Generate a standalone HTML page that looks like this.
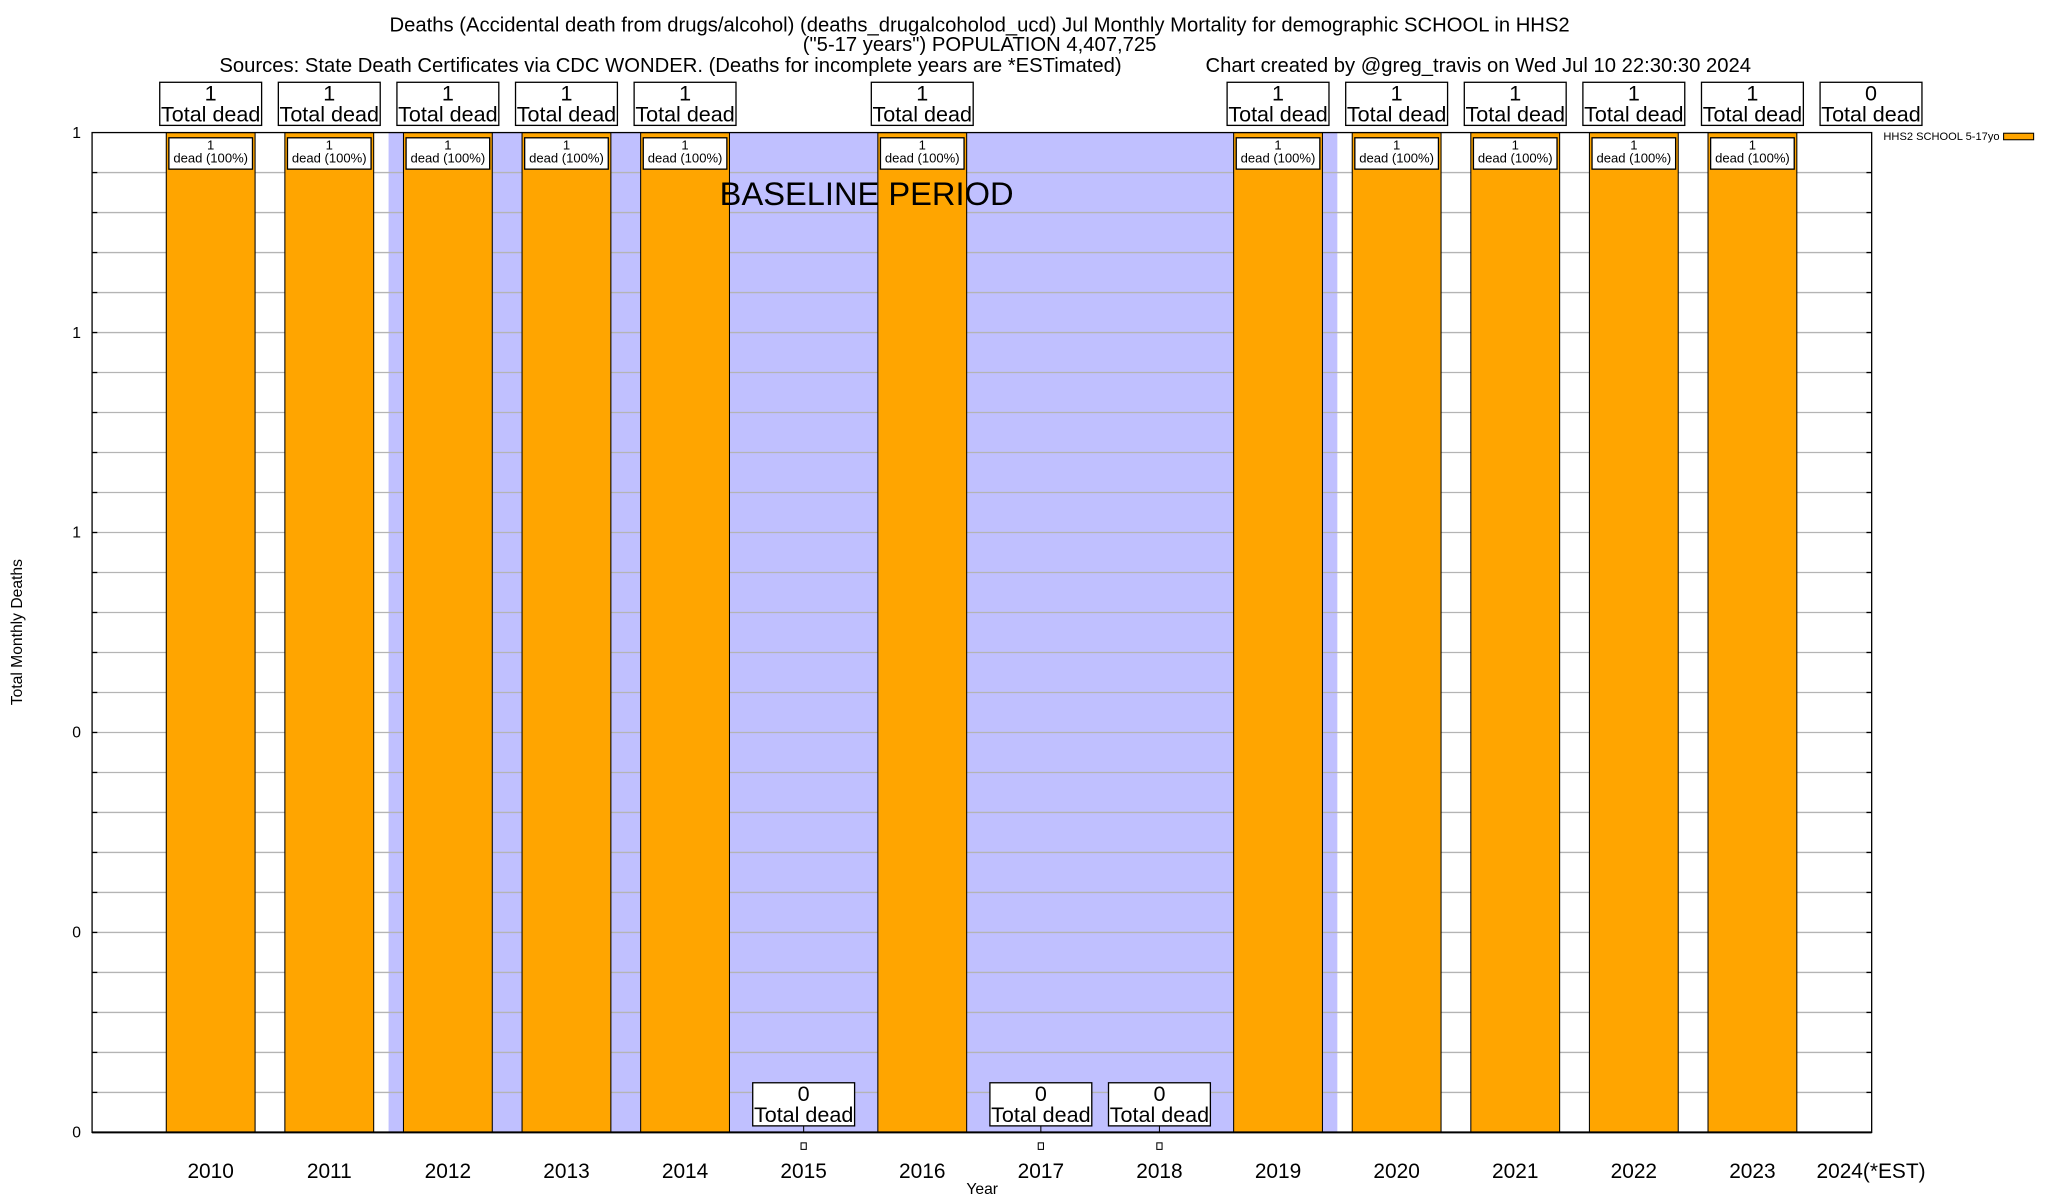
<!DOCTYPE html>
<html><head><meta charset="utf-8"><style>
html,body{margin:0;padding:0;background:#fff}
svg{display:block;font-family:"Liberation Sans",sans-serif}
</style></head><body>
<svg id="chart" width="2048" height="1200" viewBox="0 0 1568 918.75" xmlns="http://www.w3.org/2000/svg">
<g id="bg"></g>
<g id="grid"></g>
<g id="bars"></g>
<g id="labels"></g>
<g id="axes"></g>
<text x="750" y="24" font-size="15.5" text-anchor="middle">Deaths (Accidental death from drugs/alcohol) (deaths_drugalcoholod_ucd) Jul Monthly Mortality for demographic SCHOOL in HHS2</text>
<text x="750" y="39" font-size="15.5" text-anchor="middle">("5-17 years") POPULATION 4,407,725</text>
<text x="168" y="55" font-size="15.5">Sources: State Death Certificates via CDC WONDER. (Deaths for incomplete years are *ESTimated)</text>
<text x="923" y="55" font-size="15.5">Chart created by @greg_travis on Wed Jul 10 22:30:30 2024</text>
<text x="551" y="157" font-size="25">BASELINE PERIOD</text>
<text x="752" y="914" font-size="12" text-anchor="middle">Year</text>
<text transform="translate(17,484) rotate(-90)" font-size="12" text-anchor="middle">Total Monthly Deaths</text>
<text x="1442" y="107" font-size="8.5">HHS2 SCHOOL 5-17yo</text>
<rect x="1534" y="102" width="23" height="5" fill="#ffa500" stroke="#000" stroke-width="0.8"/>
</svg>
<script>
const years = ['2010','2011','2012','2013','2014','2015','2016','2017','2018','2019','2020','2021','2022','2023','2024(*EST)'];
const deaths = [1,1,1,1,1,0,1,0,0,1,1,1,1,1,0];
const totalLabels = ['1','1','1','1','1','0','1','0','0','1','1','1','1','1','0'];
const yTicks = [0,0.2,0.4,0.6,0.8,1.0];
const baselineStart = 2;
const baselineEnd = 9;

const NS='http://www.w3.org/2000/svg';
const L=70.5,R=1433,T=101.5,B=867;
const x0=161.3, step=90.8, half=34;
const xs=i=>x0+i*step;
const ys=v=>B-(v/1)*(B-T);
function mk(tag,attrs,parent,txt){const e=document.createElementNS(NS,tag);for(const k in attrs)e.setAttribute(k,attrs[k]);if(txt!==undefined)e.textContent=txt;document.getElementById(parent).appendChild(e);return e;}

let bs=mk('rect',{x:xs(baselineStart)-step/2,y:T,width:xs(baselineEnd)-xs(baselineStart)+step,height:B-T,fill:'#c0c0ff'},'bg');



for(let k=1;k<25;k++){const v=k*0.04;const g=mk('line',{x1:L,x2:R,y1:ys(v),y2:ys(v),stroke:'#b4b4b4','stroke-width':1},'grid');


mk('line',{x1:L,x2:L+4,y1:ys(v),y2:ys(v),stroke:'#000','stroke-width':1},'axes');
mk('line',{x1:R-4,x2:R,y1:ys(v),y2:ys(v),stroke:'#000','stroke-width':1},'axes');}
yTicks.forEach(v=>{const t=mk('text',{x:62,y:ys(v)+4,'font-size':12,'text-anchor':'end'},'axes',v.toFixed(0));

});

function topBox(cx,yr,i,y){
 const tb=mk('rect',{x:cx-39,y:y,width:78,height:33,fill:'#fff',stroke:'#000','stroke-width':1},'labels');
 
 
 mk('text',{x:cx,y:y+14,'font-size':16.5,'text-anchor':'middle'},'labels',totalLabels[i]);
 mk('text',{x:cx,y:y+30,'font-size':16.5,'text-anchor':'middle'},'labels','Total dead');
}

years.forEach((yr,i)=>{
 const cx=xs(i), v=deaths[i];
 if(v>0){const b=mk('rect',{x:cx-half,y:ys(v),width:half*2,height:B-ys(v),fill:'#ffa500',stroke:'#000','stroke-width':0.8},'bars');
 
 
 const ib=mk('rect',{x:cx-32,y:ys(v)+4,width:64,height:24,fill:'#fff',stroke:'#000','stroke-width':1},'labels');
 
 
 mk('text',{x:cx,y:ys(v)+13,'font-size':10,'text-anchor':'middle'},'labels',String(v));
 mk('text',{x:cx,y:ys(v)+23,'font-size':10,'text-anchor':'middle'},'labels','dead (100%)');
 topBox(cx,yr,i,63);
 } else if(i<years.length-1){
 topBox(cx,yr,i,829);
 mk('line',{x1:cx,x2:cx,y1:862,y2:B,stroke:'#000','stroke-width':0.8},'labels');
 mk('rect',{x:cx-2,y:875,width:4,height:5,fill:'#fff',stroke:'#000','stroke-width':0.8},'labels');
 } else {
 topBox(cx,yr,i,63);
 }
 const xl=mk('text',{x:cx,y:902,'font-size':16,'text-anchor':'middle'},'axes',yr);
 
 
});
const fr=mk('rect',{x:L,y:T,width:R-L,height:B-T,fill:'none',stroke:'#000','stroke-width':1},'axes');


mk('line',{x1:L,x2:R,y1:B,y2:B,stroke:'#000','stroke-width':1.5},'axes');
</script>
</body></html>
